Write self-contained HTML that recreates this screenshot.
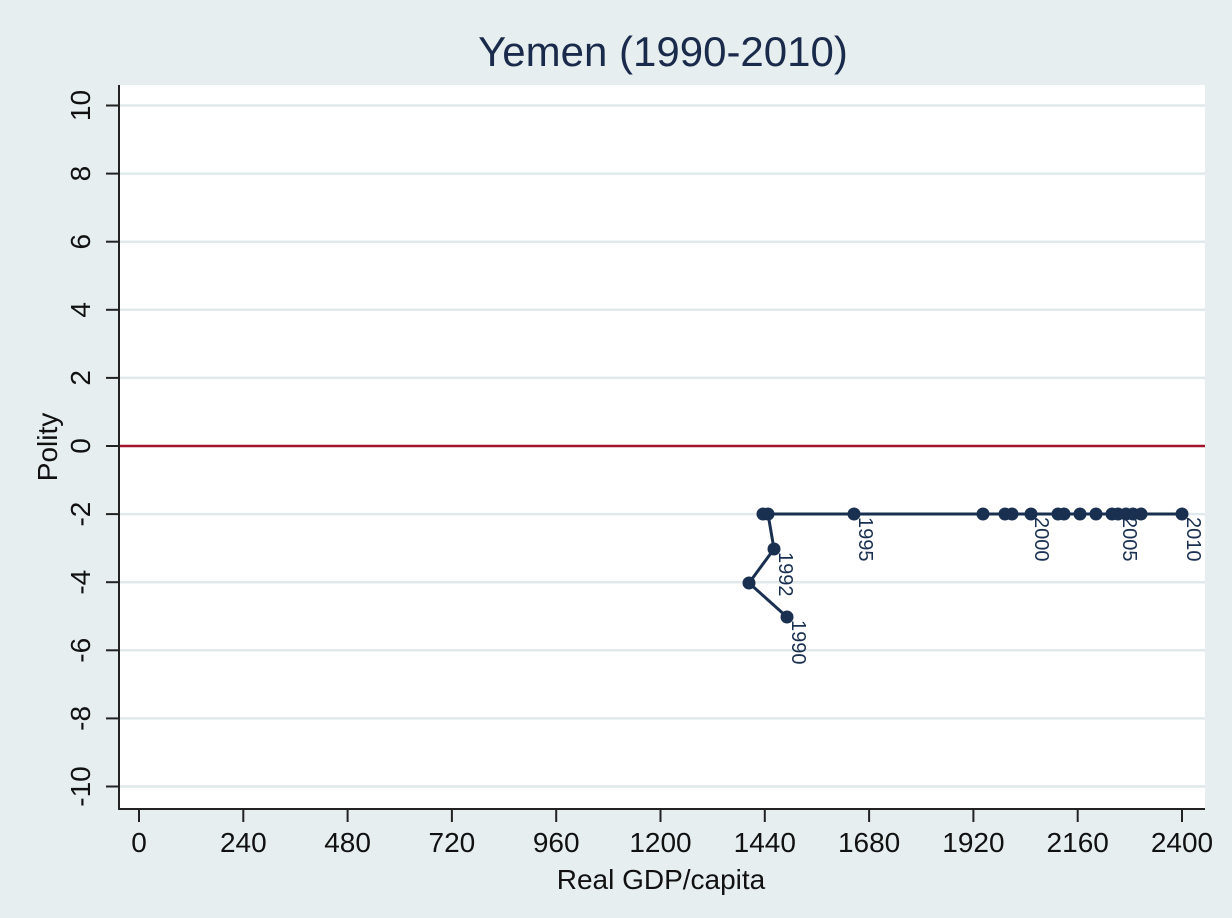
<!DOCTYPE html>
<html><head><meta charset="utf-8"><style>
html,body{margin:0;padding:0;background:#e6eef0;}
svg{display:block;}
text{font-family:"Liberation Sans",sans-serif;fill:#111;}
</style></head><body>
<svg width="1232" height="918" viewBox="0 0 1232 918">
<rect width="1232" height="918" fill="#e6eef0"/>
<rect x="119" y="85" width="1086" height="724" fill="#fff"/>
<g stroke="#e0e9ec" stroke-width="2.5">
<line x1="119" x2="1205" y1="105.5" y2="105.5"/>
<line x1="119" x2="1205" y1="173.6" y2="173.6"/>
<line x1="119" x2="1205" y1="241.7" y2="241.7"/>
<line x1="119" x2="1205" y1="309.8" y2="309.8"/>
<line x1="119" x2="1205" y1="377.9" y2="377.9"/>
<line x1="119" x2="1205" y1="514.1" y2="514.1"/>
<line x1="119" x2="1205" y1="582.2" y2="582.2"/>
<line x1="119" x2="1205" y1="650.3" y2="650.3"/>
<line x1="119" x2="1205" y1="718.4" y2="718.4"/>
<line x1="119" x2="1205" y1="786.5" y2="786.5"/>
</g>
<line x1="119" x2="1205" y1="446" y2="446" stroke="#a0152a" stroke-width="2.5"/>
<g stroke="#222" stroke-width="2">
<line x1="119" y1="85" x2="119" y2="810"/>
<line x1="118" y1="809" x2="1205" y2="809"/>
<line x1="106" x2="119" y1="105.5" y2="105.5"/>
<line x1="106" x2="119" y1="173.6" y2="173.6"/>
<line x1="106" x2="119" y1="241.7" y2="241.7"/>
<line x1="106" x2="119" y1="309.8" y2="309.8"/>
<line x1="106" x2="119" y1="377.9" y2="377.9"/>
<line x1="106" x2="119" y1="446" y2="446"/>
<line x1="106" x2="119" y1="514.1" y2="514.1"/>
<line x1="106" x2="119" y1="582.2" y2="582.2"/>
<line x1="106" x2="119" y1="650.3" y2="650.3"/>
<line x1="106" x2="119" y1="718.4" y2="718.4"/>
<line x1="106" x2="119" y1="786.5" y2="786.5"/>
<line y1="809" y2="822" x1="139" x2="139"/>
<line y1="809" y2="822" x1="243.3" x2="243.3"/>
<line y1="809" y2="822" x1="347.6" x2="347.6"/>
<line y1="809" y2="822" x1="451.9" x2="451.9"/>
<line y1="809" y2="822" x1="556.2" x2="556.2"/>
<line y1="809" y2="822" x1="660.5" x2="660.5"/>
<line y1="809" y2="822" x1="764.8" x2="764.8"/>
<line y1="809" y2="822" x1="869.1" x2="869.1"/>
<line y1="809" y2="822" x1="973.4" x2="973.4"/>
<line y1="809" y2="822" x1="1077.7" x2="1077.7"/>
<line y1="809" y2="822" x1="1182" x2="1182"/>
</g>
<g font-size="28" text-anchor="middle">
<text x="139" y="852">0</text><text x="243.3" y="852">240</text><text x="347.6" y="852">480</text>
<text x="451.9" y="852">720</text><text x="556.2" y="852">960</text><text x="660.5" y="852">1200</text>
<text x="764.8" y="852">1440</text><text x="869.1" y="852">1680</text><text x="973.4" y="852">1920</text>
<text x="1077.7" y="852">2160</text><text x="1182" y="852">2400</text>
</g>
<g font-size="28" text-anchor="middle">
<text transform="translate(90,105.5) rotate(-90)">10</text>
<text transform="translate(90,173.6) rotate(-90)">8</text>
<text transform="translate(90,241.7) rotate(-90)">6</text>
<text transform="translate(90,309.8) rotate(-90)">4</text>
<text transform="translate(90,377.9) rotate(-90)">2</text>
<text transform="translate(90,446) rotate(-90)">0</text>
<text transform="translate(90,514.1) rotate(-90)">-2</text>
<text transform="translate(90,582.2) rotate(-90)">-4</text>
<text transform="translate(90,650.3) rotate(-90)">-6</text>
<text transform="translate(90,718.4) rotate(-90)">-8</text>
<text transform="translate(90,786.5) rotate(-90)">-10</text>
</g>
<text x="661" y="889" font-size="28" text-anchor="middle">Real GDP/capita</text>
<text transform="translate(57,447) rotate(-90)" font-size="28" text-anchor="middle">Polity</text>
<text x="663" y="66" font-size="42" text-anchor="middle" style="fill:#1a2a4a">Yemen (1990-2010)</text>
<g stroke="#1a3050" stroke-width="3" fill="none">
<polyline points="787,617 749,583 774,549 768,514 763,514 854,514 983,514 1005,514 1012,514 1031,514 1058,514 1064,514 1080,514 1096,514 1112,514 1118,514 1126,514 1133,514 1141,514 1182,514"/>
</g>
<g fill="#1a3050">
<circle cx="787" cy="617" r="6.5"/><circle cx="749" cy="583" r="6.5"/><circle cx="774" cy="549" r="6.5"/>
<circle cx="768" cy="514" r="6.5"/><circle cx="763" cy="514" r="6.5"/><circle cx="854" cy="514" r="6.5"/>
<circle cx="983" cy="514" r="6.5"/><circle cx="1005" cy="514" r="6.5"/><circle cx="1012" cy="514" r="6.5"/>
<circle cx="1031" cy="514" r="6.5"/><circle cx="1058" cy="514" r="6.5"/><circle cx="1064" cy="514" r="6.5"/>
<circle cx="1080" cy="514" r="6.5"/><circle cx="1096" cy="514" r="6.5"/><circle cx="1112" cy="514" r="6.5"/>
<circle cx="1118" cy="514" r="6.5"/><circle cx="1126" cy="514" r="6.5"/><circle cx="1133" cy="514" r="6.5"/>
<circle cx="1141" cy="514" r="6.5"/><circle cx="1182" cy="514" r="6.5"/>
</g>
<g font-size="20">
<text transform="translate(792,620) rotate(90)" style="fill:#1a3050">1990</text>
<text transform="translate(779,552) rotate(90)" style="fill:#1a3050">1992</text>
<text transform="translate(859,517) rotate(90)" style="fill:#1a3050">1995</text>
<text transform="translate(1035,517) rotate(90)" style="fill:#1a3050">2000</text>
<text transform="translate(1123,517) rotate(90)" style="fill:#1a3050">2005</text>
<text transform="translate(1187,517) rotate(90)" style="fill:#1a3050">2010</text>
</g>
</svg>
</body></html>
